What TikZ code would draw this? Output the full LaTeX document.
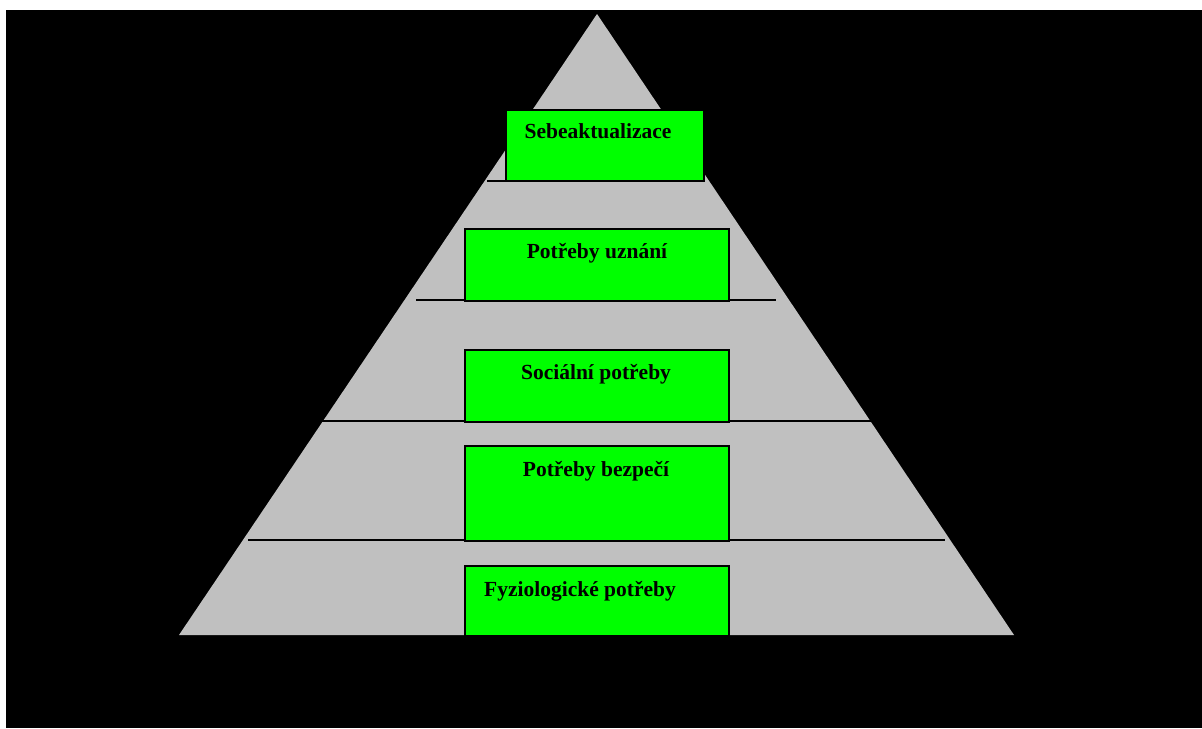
\documentclass[tikz,border=0pt]{standalone}
\usepackage{fontspec}
\setmainfont{Liberation Serif}
\definecolor{pyrgray}{RGB}{192,192,192}
\definecolor{pyrgreen}{RGB}{0,255,0}
\tikzset{
  pyrbox/.style={draw=black, line width=1pt, fill=pyrgreen, inner sep=0pt, anchor=north west},
  pyrtext/.style={anchor=base, inner sep=0pt, font=\fontsize{10.75}{12}\selectfont\bfseries},
  divider/.style={line width=1pt}
}
\begin{document}
\begin{tikzpicture}[x=0.5pt,y=-0.5pt]
        % Background and frame
        \useasboundingbox (0,0) rectangle (1202,728);
        \fill[white] (0,0) rectangle (1202,728);
        \fill[black] (6,10) rectangle (1202,728);

        % Draw the pyramid
        \fill[pyrgray] (597,14) -- (1014,635) -- (179,635) -- cycle;

        % Dividing lines
        \coordinate (d1l) at (487,181); \coordinate (d1r) at (704,181);
        \coordinate (d2l) at (416,300); \coordinate (d2r) at (776,300);
        \coordinate (d3l) at (322,421); \coordinate (d3r) at (872,421);
        \coordinate (d4l) at (248,540); \coordinate (d4r) at (945,540);
        \draw[divider] (d1l) -- (d1r);
        \draw[divider] (d2l) -- (d2r);
        \draw[divider] (d3l) -- (d3r);
        \draw[divider] (d4l) -- (d4r);

        % Green boxes
        \node[pyrbox, minimum width=99pt, minimum height=35.5pt] (b1) at (505,109) {};
        \node[pyrbox, minimum width=132pt, minimum height=36pt] (b2) at (464,228) {};
        \node[pyrbox, minimum width=132pt, minimum height=36pt] (b3) at (464,349) {};
        \node[pyrbox, minimum width=132pt, minimum height=47.5pt] (b4) at (464,445) {};
        \node[pyrbox, minimum width=132pt, minimum height=35pt] (b5) at (464,565) {};

        % Label the levels
        \node[pyrtext] (t1) at (598,138) {Sebeaktualizace};
        \node[pyrtext] (t2) at (597,258) {Potřeby uznání};
        \node[pyrtext] (t3) at (596,379) {Sociální potřeby};
        \node[pyrtext] (t4) at (596,476) {Potřeby bezpečí};
        \node[pyrtext] (t5) at (580,596) {Fyziologické potřeby};

        \end{tikzpicture}
\end{document}
